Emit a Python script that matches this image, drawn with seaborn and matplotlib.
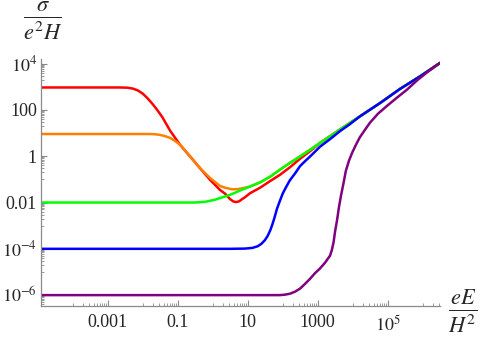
import numpy as np
import matplotlib
matplotlib.use("Agg")
import matplotlib.pyplot as plt
import matplotlib.ticker as mticker
import seaborn as sns

sns.set_style("white")
plt.rcParams['font.family'] = ['Liberation Serif', 'DejaVu Serif']
plt.rcParams['mathtext.fontset'] = 'stix'

# values, as log10(eE/H^2) and log10(sigma/(e^2 H))
tail_x = [3.07, 3.64, 4.21, 4.79, 5.36, 5.93, 6.50]
tail_y = [0.57, 1.15, 1.72, 2.30, 2.91, 3.45, 4.03]

red_x = [-4.90, -3.21, -2.64, -2.43, -2.27, -2.13, -1.99, -1.86, -1.72, -1.58,
         -1.43, -1.21, -0.93, -0.64, -0.36, -0.07, 0.21, 0.36, 0.50, 0.59,
         0.67, 0.76, 0.84, 0.93, 1.07, 1.36, 1.64, 1.93, 2.21, 2.50,
         2.79] + tail_x
red_y = [2.97, 2.97, 2.97, 2.96, 2.92, 2.84, 2.70, 2.51, 2.27, 2.00,
         1.68, 1.10, 0.50, -0.01, -0.51, -1.02, -1.45, -1.62, -1.85, -1.95,
         -1.98, -1.95, -1.86, -1.77, -1.60, -1.36, -1.08, -0.80, -0.48, -0.11,
         0.22] + tail_y

orange_x = [-4.90, -3.21, -1.79, -1.64, -1.50, -1.36, -1.21, -1.07, -0.93, -0.64,
            -0.36, -0.07, 0.21, 0.36, 0.56, 0.73, 0.93, 1.07, 1.36, 1.64,
            1.93, 2.21, 2.50, 2.79] + tail_x
orange_y = [0.96, 0.96, 0.96, 0.95, 0.92, 0.87, 0.79, 0.66, 0.50, -0.01,
            -0.51, -0.94, -1.28, -1.36, -1.43, -1.42, -1.36, -1.31, -1.13, -0.89,
            -0.58, -0.29, -0.01, 0.28] + tail_y

green_x = [-4.90, -3.00, -1.00, -0.50, -0.21, 0.07, 0.21, 0.50, 0.79, 1.07,
           1.36, 1.64, 1.93, 2.21, 2.50, 2.79] + tail_x
green_y = [-2.00, -2.00, -2.00, -2.00, -1.97, -1.88, -1.81, -1.67, -1.48, -1.31,
           -1.13, -0.89, -0.58, -0.29, -0.01, 0.28] + tail_y

blue_x = [-4.90, -2.00, 0.50, 0.93, 1.14, 1.29, 1.40, 1.50, 1.58, 1.65,
          1.71, 1.77, 1.84, 1.93, 2.01, 2.10, 2.21, 2.36, 2.50, 2.64,
          2.79, 3.07, 3.36, 3.64, 3.93] + tail_x[2:]
blue_y = [-4.00, -4.00, -4.00, -3.99, -3.96, -3.89, -3.78, -3.62, -3.43, -3.20,
          -2.95, -2.66, -2.28, -1.91, -1.60, -1.34, -1.04, -0.74, -0.43, -0.22,
          -0.01, 0.41, 0.74, 1.08, 1.39] + tail_y[2:]

purple_x = [-4.90, -2.00, 1.00, 1.93, 2.07, 2.21, 2.36, 2.50, 2.64, 2.79,
            2.93, 3.07, 3.21, 3.36, 3.41, 3.46, 3.50, 3.56, 3.61, 3.67,
            3.74, 3.81, 3.90, 3.99, 4.10, 4.21, 4.36, 4.50, 4.73, 4.99,
            5.27, 5.56, 5.84, 6.16, 6.50]
purple_y = [-6.00, -6.00, -6.00, -6.00, -5.98, -5.94, -5.85, -5.72, -5.52, -5.29,
            -5.05, -4.85, -4.61, -4.29, -4.05, -3.71, -3.27, -2.75, -2.23, -1.71,
            -1.19, -0.63, -0.19, 0.15, 0.50, 0.82, 1.15, 1.45, 1.84, 2.18,
            2.53, 2.88, 3.27, 3.66, 4.03]

curves = [
    (red_x, red_y, '#ff0000'),
    (orange_x, orange_y, '#ff8000'),
    (green_x, green_y, '#00ff00'),
    (blue_x, blue_y, '#0000ff'),
    (purple_x, purple_y, '#800080'),
]

x_ticks = [1e-3, 1e-1, 1e1, 1e3, 1e5]
x_labels = ['0.001', '0.1', '10', '1000', r'$10^5$']
y_ticks = [1e4, 1e2, 1, 1e-2, 1e-4, 1e-6]
y_labels = [r'$10^4$', '100', '1', '0.01', r'$10^{-4}$', r'$10^{-6}$']

fig = plt.figure(figsize=(4.82, 3.37), dpi=100)
ax = fig.add_axes([41 / 482, 1 - 306 / 337, 399 / 482, 247 / 337])
ax.set_xscale('log')
ax.set_yscale('log')

for lx, ly, c in curves:
    sns.lineplot(x=10 ** np.array(lx), y=10 ** np.array(ly), color=c,
                 linewidth=1.8, ax=ax, sort=False, solid_joinstyle='round')

ax.set_xlim(10 ** -4.9, 10 ** 6.5)
ax.set_ylim(10 ** -6.47, 10 ** 4.2)

# Mathematica-like axes
axis_gray = '#8a8a8a'
for s in ['top', 'right']:
    ax.spines[s].set_visible(False)
for s in ['left', 'bottom']:
    ax.spines[s].set_color(axis_gray)
    ax.spines[s].set_linewidth(0.9)

ax.xaxis.set_major_locator(mticker.FixedLocator(x_ticks))
ax.xaxis.set_major_formatter(mticker.FixedFormatter(x_labels))
ax.yaxis.set_major_locator(mticker.FixedLocator(y_ticks))
ax.yaxis.set_major_formatter(mticker.FixedFormatter(y_labels))

x_minor = [m * 10.0 ** e for e in [-4, -2, 0, 2, 4, 6] for m in range(1, 10)]
y_minor = [m * 10.0 ** e for e in [-7, -5, -3, -1, 1, 3] for m in range(1, 10)]
ax.xaxis.set_minor_locator(mticker.FixedLocator(x_minor))
ax.yaxis.set_minor_locator(mticker.FixedLocator(y_minor))
ax.xaxis.set_minor_formatter(mticker.NullFormatter())
ax.yaxis.set_minor_formatter(mticker.NullFormatter())

ax.tick_params(which='major', direction='in', length=4, width=0.8, color=axis_gray,
               labelsize=13, pad=3, bottom=True, left=True)
ax.tick_params(which='minor', direction='in', length=2, width=0.6, color=axis_gray,
               bottom=True, left=True)
ax.tick_params(axis='x', which='major', pad=6)
ax.grid(False)

fig.text(43 / 482, 1 - 21 / 337, r'$\frac{\sigma}{e^2H}$', fontsize=23,
         ha='center', va='center')
fig.text(463 / 482, 1 - 311 / 337, r'$\frac{eE}{H^2}$', fontsize=23,
         ha='center', va='center')

fig.savefig('out.png', dpi=100)
